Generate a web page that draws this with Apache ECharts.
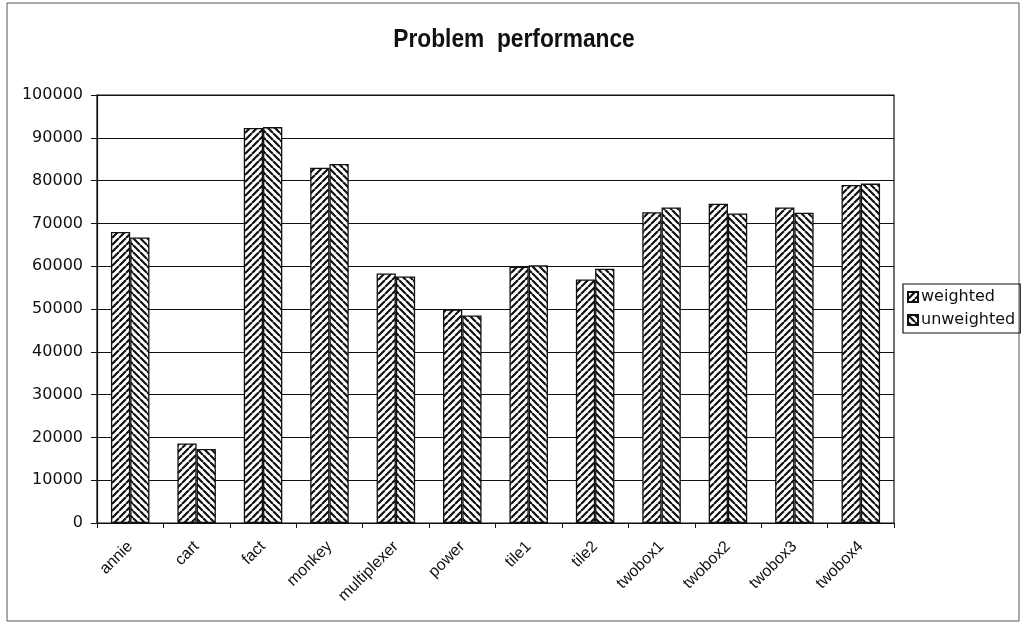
<!DOCTYPE html>
<html>
<head>
<meta charset="utf-8">
<script src="https://cdn.jsdelivr.net/npm/echarts@6/dist/echarts.min.js"></script>
<style>
  html, body { margin: 0; padding: 0; background: #fff; }
  #chart { width: 1024px; height: 627px; }
</style>
</head>
<body>
<div id="chart"></div>
<script>
// Problem names along the x axis
const problems = ['annie', 'cart', 'fact', 'monkey', 'multiplexer', 'power',
                  'tile1', 'tile2', 'twobox1', 'twobox2', 'twobox3', 'twobox4'];
// Performance scores per problem
const weighted   = [68000, 18600, 92300, 83000, 58300, 49900, 59900, 56900, 72600, 74600, 73700, 79000];
const unweighted = [66700, 17300, 92500, 83900, 57600, 48500, 60200, 59400, 73700, 72300, 72500, 79300];
const yTicks = { min: 0, max: 100000, interval: 10000 };

// Diagonal hatch tile; dir = 1 draws "/" lines, dir = -1 draws "\" lines
function hatch(dir) {
  const s = 7;
  const c = document.createElement('canvas');
  c.width = s; c.height = s;
  const g = c.getContext('2d');
  g.fillStyle = '#fff';
  g.fillRect(0, 0, s, s);
  g.strokeStyle = '#111';
  g.lineWidth = 2.2;
  g.beginPath();
  for (let k = -1; k <= 1; k++) {
    if (dir > 0) {
      g.moveTo(k * s, s); g.lineTo(k * s + s, 0);
    } else {
      g.moveTo(k * s, 0); g.lineTo(k * s + s, s);
    }
  }
  g.stroke();
  return { image: c, repeat: 'repeat' };
}

const chart = echarts.init(document.getElementById('chart'));
const numFont = 'DejaVu Sans, Verdana, sans-serif';
const catFont = 'Liberation Sans, Arial, sans-serif';

chart.setOption({
  animation: false,
  backgroundColor: '#fff',
  grid: { left: 97, right: 130, top: 95, bottom: 104, show: true,
          borderColor: '#111', borderWidth: 1.2, backgroundColor: 'transparent' },
  legend: {
    orient: 'vertical', left: 903, top: 284,
    itemWidth: 10, itemHeight: 10, itemGap: 7,
    padding: [5, 5, 5, 4],
    borderColor: '#111', borderWidth: 1.2,
    textStyle: { fontFamily: numFont, fontSize: 16, color: '#111', padding: [0, 0, 0, -2] },
    data: [
      { name: 'weighted', icon: 'rect' },
      { name: 'unweighted', icon: 'rect' }
    ]
  },
  xAxis: {
    type: 'category', data: problems,
    axisLine: { lineStyle: { color: '#111', width: 1.2 } },
    axisTick: { show: true, length: 5, alignWithLabel: false, lineStyle: { color: '#111' } },
    axisLabel: { rotate: 45, margin: 21, fontFamily: catFont, fontSize: 16, color: '#111' }
  },
  yAxis: {
    type: 'value', min: yTicks.min, max: yTicks.max, interval: yTicks.interval,
    axisLine: { show: true, lineStyle: { color: '#111', width: 1.2 } },
    axisTick: { show: true, length: 6, lineStyle: { color: '#111' } },
    axisLabel: { margin: 14, fontFamily: numFont, fontSize: 16, color: '#111',
                 formatter: v => String(v) },
    splitLine: { lineStyle: { color: '#111', width: 1.2 } }
  },
  series: [
    {
      name: 'weighted', type: 'bar', data: weighted,
      barGap: '0%', barCategoryGap: '42%',
      itemStyle: { color: hatch(1), borderColor: '#111', borderWidth: 1.3 }
    },
    {
      name: 'unweighted', type: 'bar', data: unweighted,
      itemStyle: { color: hatch(-1), borderColor: '#111', borderWidth: 1.3 }
    }
  ],
  graphic: [
    { type: 'rect', shape: { x: 7, y: 3, width: 1012, height: 618 },
      style: { fill: 'none', stroke: '#555', lineWidth: 1 }, silent: true, z: -1 },
    // Chart title, set in a condensed bold face
    { type: 'text', x: 514, y: 40, scaleX: 0.91,
      style: { text: 'Problem  performance', fill: '#111',
               font: 'bold 25px Liberation Sans, Arial, sans-serif',
               align: 'center', verticalAlign: 'middle' } }
  ]
});
</script>
</body>
</html>
